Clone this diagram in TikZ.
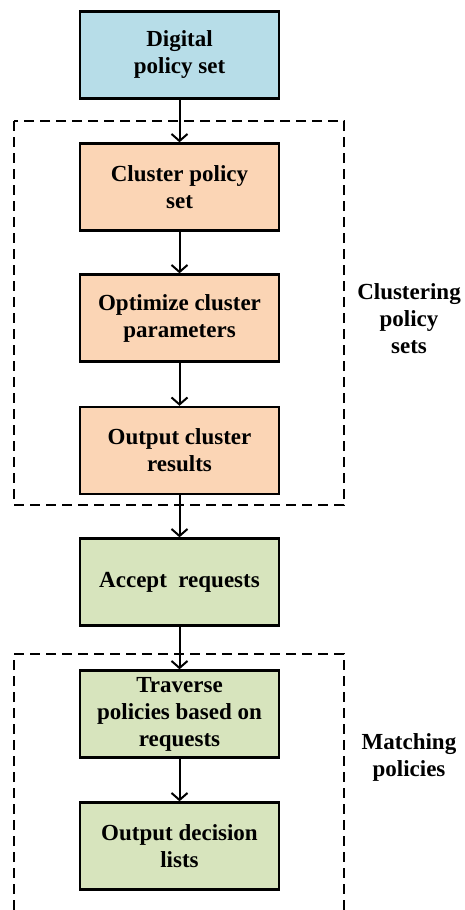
\documentclass[tikz,border=0pt]{standalone}
\usepackage{fontspec}
\setmainfont{Liberation Serif}
\usetikzlibrary{arrows.meta}
\definecolor{bluefill}{HTML}{B7DDE8}
\definecolor{orangefill}{HTML}{FBD5B5}
\definecolor{greenfill}{HTML}{D7E4BD}
\tikzset{
  stepbox/.style={draw=black, line width=2.4pt, minimum width=199pt, minimum height=87pt,
    align=center, inner sep=1pt, font=\fontsize{23}{27}\selectfont\bfseries},
  flow/.style={draw=black, line width=2pt, -{Straight Barb[length=7pt,width=16pt,line width=2pt]}},
  groupbox/.style={draw=black, line width=2.2pt, dash pattern=on 10pt off 6pt},
  grouplabel/.style={align=center, font=\fontsize{23}{27}\selectfont\bfseries}
}
\begin{document}
\begin{tikzpicture}[x=1pt,y=-1pt]
\useasboundingbox (0,0) rectangle (464,910);
% groups
\draw[groupbox] (14,121) rectangle (344,505);
\draw[groupbox] (14,910) -- (14,654) -- (344,654) -- (344,910);
% nodes
\node[stepbox, fill=bluefill] (digital) at (179.5,55) {Digital\\policy set};
\node[stepbox, fill=orangefill] (cluster) at (179.5,187) {Cluster policy\\set};
\node[stepbox, fill=orangefill] (optim) at (179.5,318) {Optimize cluster\\parameters};
\node[stepbox, fill=orangefill] (outc) at (179.5,450.5) {Output cluster\\results};
\node[stepbox, fill=greenfill] (accept) at (179.5,582) {Accept\ \ requests};
\node[stepbox, fill=greenfill] (trav) at (179.5,714) {Traverse\\policies based on\\requests};
\node[stepbox, fill=greenfill] (outd) at (179.5,846) {Output decision\\lists};
\node[grouplabel] (lab1) at (409,319) {Clustering\\policy\\sets};
\node[grouplabel] (lab2) at (409,757) {Matching\\policies};
% connectors
\draw[flow] (digital) -- (cluster);
\draw[flow] (cluster) -- (optim);
\draw[flow] (optim) -- (outc);
\draw[flow] (outc) -- (accept);
\draw[flow] (accept) -- (trav);
\draw[flow] (trav) -- (outd);
\end{tikzpicture}
\end{document}
